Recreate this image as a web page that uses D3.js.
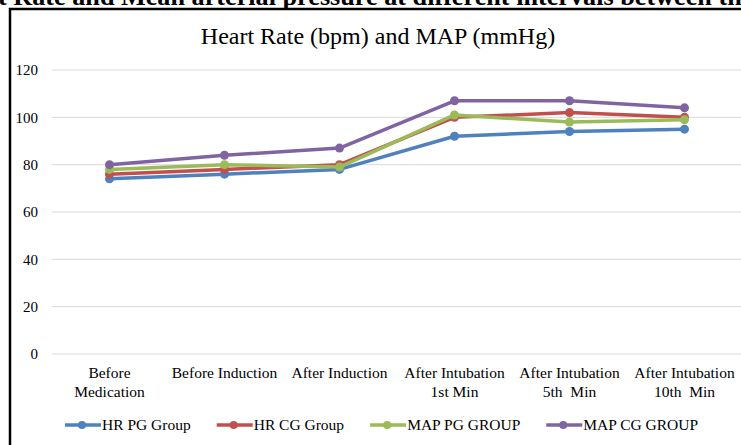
<!DOCTYPE html>
<html>
<head>
<meta charset="utf-8">
<script src="https://cdn.jsdelivr.net/npm/d3@7"></script>
<style>
  body { margin: 0; background: #fff; }
  text { font-family: "Liberation Serif", "Times New Roman", serif; fill: #000; }
</style>
</head>
<body>
<div id="chart"></div>
<script>
// Data
var categories = ["Before Medication", "Before Induction", "After Induction",
                  "After Intubation 1st Min", "After Intubation 5th Min", "After Intubation 10th Min"];
var catLabels = [["Before", "Medication"], ["Before Induction"], ["After Induction"],
                 ["After Intubation", "1st Min"], ["After Intubation", "5th  Min"], ["After Intubation", "10th  Min"]];
var hrPG = [74, 76, 78, 92, 94, 95];
var hrCG = [76, 78, 80, 100, 102, 100];
var mapPG = [78, 80, 79, 101, 98, 99];
var mapCG = [80, 84, 87, 107, 107, 104];
var seriesNames = ["HR PG Group", "HR CG Group", "MAP PG GROUP", "MAP CG GROUP"];
var seriesColors = ["#4f81bd", "#c0504d", "#9bbb59", "#8064a2"];
var yTicks = [0, 20, 40, 60, 80, 100, 120];

var series = [hrPG, hrCG, mapPG, mapCG].map(function(vals, i) {
    return { name: seriesNames[i], color: seriesColors[i], values: vals };
});

var width = 741, height = 445;
var svg = d3.select("#chart").append("svg")
    .attr("width", width)
    .attr("height", height);

// cut-off caption above the figure (only the middle part shows)
function measure(str, fs) {
    var t = svg.append("text").style("font-size", fs + "px").style("font-weight", "bold").text(str);
    var w = t.node().getComputedTextLength();
    t.remove();
    return w;
}
var capFs = 23 * 744 / measure("t Rate and Mean arterial pressure at different intervals between th", 23);
var offs = measure("Hear", capFs);
svg.append("text")
    .attr("x", -offs - 2)
    .attr("y", 5)
    .style("font-size", capFs + "px")
    .style("font-weight", "bold")
    .text("Heart Rate and Mean arterial pressure at different intervals between the two groups");

// frame
svg.append("rect")
    .attr("x", 10).attr("y", 9)
    .attr("width", 800).attr("height", 600)
    .attr("fill", "none")
    .attr("stroke", "#000")
    .attr("stroke-width", 2.5);

// scales
var x = d3.scaleBand().domain(categories).range([52, 742]);
var y = d3.scaleLinear().domain([0, 120]).range([354, 70]);

// gridlines
svg.append("g")
    .selectAll("line")
    .data(yTicks)
    .enter().append("line")
    .attr("x1", 52).attr("x2", 741)
    .attr("y1", function(d) { return y(d); })
    .attr("y2", function(d) { return y(d); })
    .attr("stroke", "#d9d9d9")
    .attr("stroke-width", 1);

// y tick labels
svg.append("g")
    .selectAll("text")
    .data(yTicks)
    .enter().append("text")
    .attr("x", 38)
    .attr("y", function(d) { return y(d); })
    .attr("dy", "0.35em")
    .style("text-anchor", "end")
    .style("font-size", "15px")
    .text(function(d) { return d; });

// x labels
var xl = svg.append("g")
    .selectAll("text")
    .data(categories)
    .enter().append("text")
    .attr("x", function(d) { return x(d) + x.bandwidth() / 2; })
    .attr("y", 378)
    .style("text-anchor", "middle")
    .style("font-size", "15.5px")
    .style("white-space", "pre");
xl.each(function(d, i) {
    var t = d3.select(this);
    catLabels[i].forEach(function(line, j) {
        t.append("tspan")
            .attr("x", x(d) + x.bandwidth() / 2)
            .attr("dy", j === 0 ? 0 : 19)
            .text(line);
    });
});

// title
svg.append("text")
    .attr("x", 378)
    .attr("y", 44)
    .style("text-anchor", "middle")
    .style("font-size", "24px")
    .text("Heart Rate (bpm) and MAP (mmHg)");

// lines
var line = d3.line()
    .x(function(d, i) { return x(categories[i]) + x.bandwidth() / 2; })
    .y(function(d) { return y(d); });

series.forEach(function(s) {
    var g = svg.append("g");
    g.append("path")
        .datum(s.values)
        .attr("fill", "none")
        .attr("stroke", s.color)
        .attr("stroke-width", 3.5)
        .attr("stroke-linejoin", "round")
        .attr("d", line);
    g.selectAll("circle")
        .data(s.values)
        .enter().append("circle")
        .attr("cx", function(d, i) { return x(categories[i]) + x.bandwidth() / 2; })
        .attr("cy", function(d) { return y(d); })
        .attr("r", 4.5)
        .attr("fill", s.color);
});

// legend
var lx = 65, ly = 425;
series.forEach(function(s) {
    var g = svg.append("g").attr("transform", "translate(" + lx + "," + ly + ")");
    g.append("line")
        .attr("x1", 0).attr("x2", 36)
        .attr("stroke", s.color)
        .attr("stroke-width", 3.5);
    g.append("circle")
        .attr("cx", 17).attr("r", 4)
        .attr("fill", s.color);
    var t = g.append("text")
        .attr("x", 37)
        .attr("dy", "0.35em")
        .style("font-size", "15.5px")
        .text(s.name);
    lx += 37 + t.node().getComputedTextLength() + 26;
});
</script>
</body>
</html>
